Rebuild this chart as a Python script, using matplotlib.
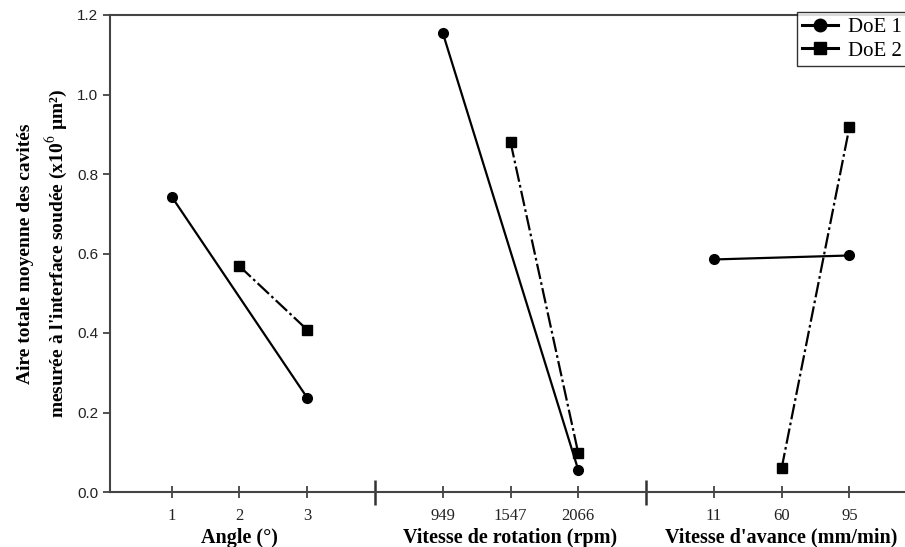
import matplotlib.pyplot as plt

# groups and tick labels
group_names = ['Angle (°)', 'Vitesse de rotation (rpm)', "Vitesse d'avance (mm/min)"]
angle_ticks = ['1', '2', '3']
rotation_ticks = ['949', '1547', '2066']
avance_ticks = ['11', '60', '95']

# DoE 1 values (level index within group, value)
doe1_angle_lvl = [0, 2]
doe1_angle_val = [0.743, 0.237]
doe1_rot_lvl = [0, 2]
doe1_rot_val = [1.155, 0.055]
doe1_av_lvl = [0, 2]
doe1_av_val = [0.585, 0.595]

# DoE 2 values
doe2_angle_lvl = [1, 2]
doe2_angle_val = [0.568, 0.408]
doe2_rot_lvl = [1, 2]
doe2_rot_val = [0.880, 0.097]
doe2_av_lvl = [1, 2]
doe2_av_val = [0.060, 0.918]

serif = ['Liberation Serif', 'DejaVu Serif']
plt.rcParams['mathtext.fontset'] = 'stix'

fig = plt.figure(figsize=(9.05, 5.47), dpi=100)
ax = fig.add_axes([110 / 905, 1 - 492 / 547, 795 / 905, 477 / 547])

offsets = [0, 4, 8]
doe1 = [(doe1_angle_lvl, doe1_angle_val), (doe1_rot_lvl, doe1_rot_val), (doe1_av_lvl, doe1_av_val)]
doe2 = [(doe2_angle_lvl, doe2_angle_val), (doe2_rot_lvl, doe2_rot_val), (doe2_av_lvl, doe2_av_val)]

for i, (off, (l1, v1), (l2, v2)) in enumerate(zip(offsets, doe1, doe2)):
    ax.plot([off + l for l in l1], v1, color='black', lw=1.6, marker='o', ms=7,
            label='DoE 1' if i == 0 else None, zorder=3)
    ax.plot([off + l for l in l2], v2, color='black', lw=1.6, marker='s', ms=7,
            linestyle=(0, (7, 1.5, 1.2, 1.5)), label='DoE 2' if i == 0 else None, zorder=3)

ax.set_xlim(-0.91, 10.82)
ax.set_ylim(0, 1.2)

tick_pos = [0, 1, 2, 4, 5, 6, 8, 9, 10]
ax.set_xticks(tick_pos)
ax.set_xticklabels(angle_ticks + rotation_ticks + avance_ticks, fontfamily=serif, fontsize=12)
ax.set_xticks([3, 7], minor=True)
ax.tick_params(axis='x', which='major', direction='inout', length=9, width=1.2, colors='#333333', labelcolor='#222222', pad=7)
ax.tick_params(axis='x', which='minor', direction='inout', length=18, width=1.8, colors='#333333')

ax.set_yticks([0, 0.2, 0.4, 0.6, 0.8, 1.0, 1.2])
ax.set_yticklabels(['0.0', '0.2', '0.4', '0.6', '0.8', '1.0', '1.2'], fontfamily='Liberation Sans', fontsize=11)
ax.tick_params(axis='y', direction='out', length=5, width=1.2, colors='#333333', labelcolor='#222222')

for s in ['left', 'bottom', 'top']:
    ax.spines[s].set_color('#444444')
    ax.spines[s].set_linewidth(1.5)
ax.spines['right'].set_visible(False)

for off, name in zip(offsets, group_names):
    ax.text(off + 1, -0.115, name, ha='center', va='center', fontfamily=serif,
            fontsize=14.5, fontweight='bold', transform=ax.transData)

ax.set_ylabel("Aire totale moyenne des cavités\nmesurée à l'interface soudée (x10$^{6}$ µm²)",
              fontfamily=serif, fontsize=14, fontweight='bold', labelpad=6, linespacing=1.5)

leg = ax.legend(loc='upper left', bbox_to_anchor=(0.864, 1.006), prop={'family': serif, 'size': 15},
                frameon=True, fancybox=False, edgecolor='black', handlelength=1.7,
                borderpad=0.25, labelspacing=0.2, handletextpad=0.5, borderaxespad=0)
leg.get_frame().set_linewidth(1.0)
for h in leg.legend_handles:
    h.set_linestyle('-')
    h.set_linewidth(2.2)
    h.set_markersize(9)

fig.savefig('out.png', dpi=100)
